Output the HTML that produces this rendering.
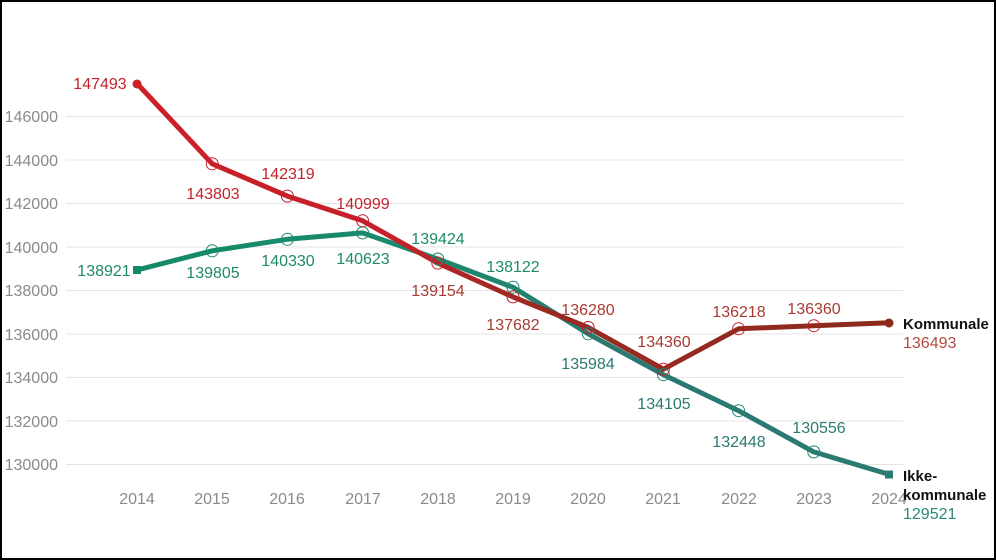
<!DOCTYPE html>
<html><head><meta charset="utf-8"><style>
html,body{margin:0;padding:0;background:#fff}
svg{display:block}
text{font-family:"Liberation Sans",sans-serif}
</style></head><body>
<svg width="996" height="560" viewBox="0 0 996 560">
<rect x="1" y="1" width="994" height="558" fill="#fff" stroke="#000" stroke-width="2"/>
<defs>
<linearGradient id="rg" gradientUnits="userSpaceOnUse" x1="137" y1="0" x2="889" y2="0">
<stop offset="0" stop-color="#cc1f27"/><stop offset="0.35" stop-color="#c4212a"/><stop offset="0.5" stop-color="#9c2a22"/><stop offset="1" stop-color="#8c2a1c"/></linearGradient>
<linearGradient id="gg" gradientUnits="userSpaceOnUse" x1="137" y1="0" x2="889" y2="0">
<stop offset="0" stop-color="#138a68"/><stop offset="0.4" stop-color="#1a8a6c"/><stop offset="0.6" stop-color="#2a7a72"/><stop offset="1" stop-color="#2a7a72"/></linearGradient>
</defs>
<g stroke="#e4e4e4" stroke-width="1">
<line x1="66" x2="903" y1="116.5" y2="116.5"/><line x1="66" x2="903" y1="160" y2="160"/>
<line x1="66" x2="903" y1="203.5" y2="203.5"/><line x1="66" x2="903" y1="247" y2="247"/>
<line x1="66" x2="903" y1="290.5" y2="290.5"/><line x1="66" x2="903" y1="334" y2="334"/>
<line x1="66" x2="903" y1="377.5" y2="377.5"/><line x1="66" x2="903" y1="421" y2="421"/>
<line x1="66" x2="903" y1="464.5" y2="464.5"/>
</g>
<g fill="#8a8a8a" font-size="16" text-anchor="end">
<text x="58" y="122">146000</text><text x="58" y="166">144000</text><text x="58" y="209">142000</text>
<text x="58" y="253">140000</text><text x="58" y="296">138000</text><text x="58" y="340">136000</text>
<text x="58" y="383">134000</text><text x="58" y="427">132000</text><text x="58" y="470">130000</text>
</g>
<g fill="#8a8a8a" font-size="16" text-anchor="middle">
<text x="137" y="504">2014</text><text x="212" y="504">2015</text><text x="287" y="504">2016</text>
<text x="363" y="504">2017</text><text x="438" y="504">2018</text><text x="513" y="504">2019</text>
<text x="588" y="504">2020</text><text x="663" y="504">2021</text><text x="739" y="504">2022</text>
<text x="814" y="504">2023</text><text x="889" y="504">2024</text>
</g>
<polyline fill="none" stroke="url(#gg)" stroke-width="5" stroke-linejoin="round" points="137,270 212.2,250.8 287.4,239.3 362.6,232.9 437.8,259 513,287.3 588.2,333.8 663.4,374.7 738.6,410.7 813.8,451.9 889,474.4"/>
<polyline fill="none" stroke="url(#rg)" stroke-width="5" stroke-linejoin="round" points="137,83.5 212.2,163.8 287.4,196.1 362.6,220.8 437.8,263.1 513,296.9 588.2,327.4 663.4,369.2 738.6,328.8 813.8,325.7 889,322.8"/>
<g fill="none" stroke-width="1">
<g stroke="#1a8a6c"><circle cx="212.2" cy="250.8" r="6"/><circle cx="287.4" cy="239.3" r="6"/><circle cx="362.6" cy="232.9" r="6"/><circle cx="437.8" cy="259" r="6"/><circle cx="513" cy="287.3" r="6"/><circle cx="588.2" cy="333.8" r="6"/><circle cx="663.4" cy="374.7" r="6"/><circle cx="738.6" cy="410.7" r="6"/><circle cx="813.8" cy="451.9" r="6"/></g>
<g stroke="#c4212a"><circle cx="212.2" cy="163.8" r="6"/><circle cx="287.4" cy="196.1" r="6"/><circle cx="362.6" cy="220.8" r="6"/><circle cx="437.8" cy="263.1" r="6"/><circle cx="513" cy="296.9" r="6"/><circle cx="588.2" cy="327.4" r="6"/><circle cx="663.4" cy="369.2" r="6"/><circle cx="738.6" cy="328.8" r="6"/><circle cx="813.8" cy="325.7" r="6"/></g>
</g>
<circle cx="137" cy="84" r="4.5" fill="#cc1f27"/>
<circle cx="889" cy="323" r="4.5" fill="#8c2a1c"/>
<rect x="133" y="266" width="8" height="8" fill="#138a68"/>
<rect x="885" y="470.5" width="8" height="8" fill="#2a7a72"/>
<g font-size="16" text-anchor="middle">
<g fill="#c4212a">
<text x="100" y="89">147493</text><text x="213" y="199">143803</text><text x="288" y="179">142319</text>
<text x="363" y="209">140999</text>
</g>
<g fill="#a83a30">
<text x="438" y="296">139154</text><text x="513" y="330">137682</text>
<text x="588" y="315">136280</text><text x="664" y="347">134360</text><text x="739" y="317">136218</text>
<text x="814" y="314">136360</text>
</g>
<g fill="#1f8a6a">
<text x="104" y="276">138921</text><text x="213" y="278">139805</text><text x="288" y="266">140330</text>
<text x="363" y="264">140623</text><text x="438" y="244">139424</text><text x="513" y="272">138122</text>
</g>
<g fill="#2a7a72">
<text x="588" y="369">135984</text><text x="664" y="409">134105</text><text x="739" y="447">132448</text>
<text x="819" y="433">130556</text>
</g>
</g>
<text x="903" y="329" font-size="15" font-weight="bold" fill="#111">Kommunale</text>
<text x="903" y="348" font-size="16" fill="#b04a40">136493</text>
<text x="903" y="481" font-size="15" font-weight="bold" fill="#111">Ikke-</text>
<text x="903" y="500" font-size="15" font-weight="bold" fill="#111">kommunale</text>
<text x="903" y="519" font-size="16" fill="#2a8a7a">129521</text>
</svg>
</body></html>
